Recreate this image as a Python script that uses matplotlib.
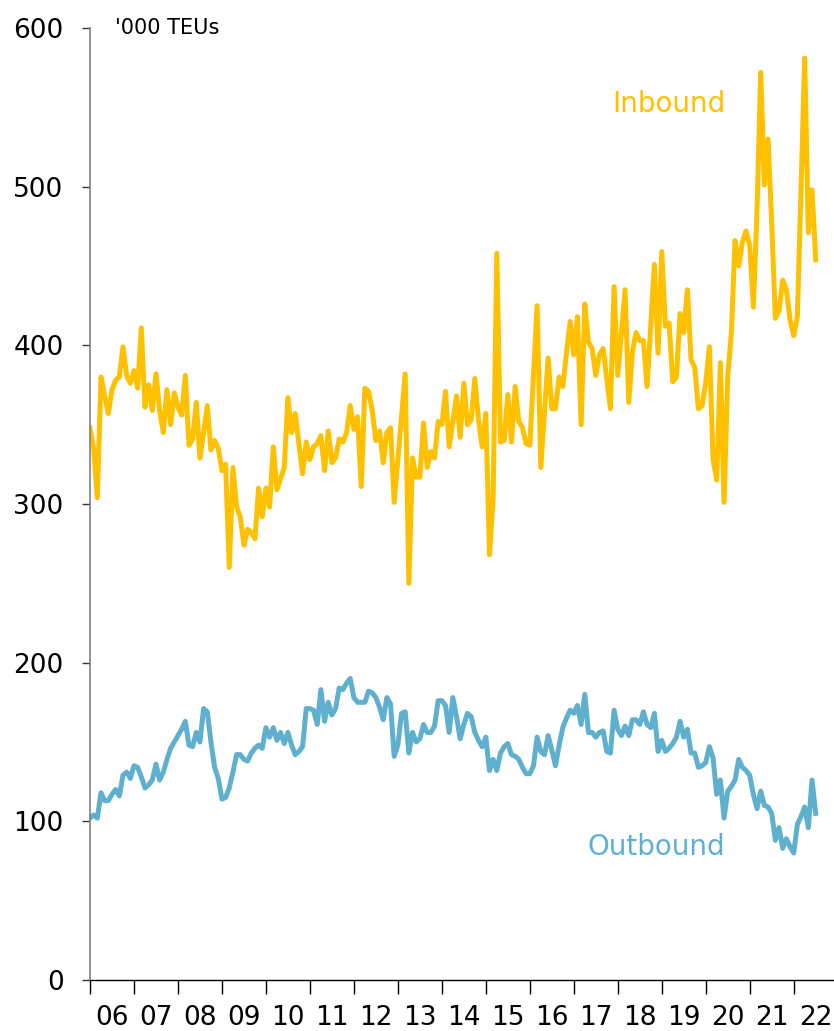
import matplotlib
matplotlib.use('Agg')
import matplotlib.pyplot as plt
import numpy as np

# monthly container throughput, '000 TEUs, Jan 2006 onwards
inbound = [348, 335, 304, 380, 368, 357, 372, 378, 380, 399, 381, 376,
           384, 373, 411, 361, 375, 359, 382, 359, 345, 372, 350, 370,
           361, 356, 381, 337, 341, 364, 329, 345, 362, 334, 340, 335,
           321, 325, 260, 323, 298, 292, 274, 284, 282, 278, 310, 292,
           310, 298, 336, 309, 316, 323, 367, 345, 357, 338, 319, 339,
           328, 336, 338, 343, 321, 346, 326, 329, 341, 339, 345, 362,
           347, 355, 311, 373, 371, 359, 340, 346, 326, 345, 348, 301,
           328, 355, 382, 250, 329, 317, 317, 351, 323, 333, 329, 352,
           350, 371, 336, 352, 368, 342, 376, 350, 353, 379, 353, 336,
           357, 268, 304, 458, 339, 340, 369, 339, 374, 352, 348, 338,
           337, 381, 425, 323, 357, 392, 360, 360, 380, 374, 395, 415,
           394, 418, 350, 426, 402, 398, 381, 394, 398, 379, 360, 437,
           381, 408, 435, 364, 396, 408, 403, 403, 374, 412, 451, 395,
           459, 412, 414, 377, 380, 420, 408, 435, 391, 386, 360, 362,
           376, 399, 328, 315, 389, 301, 380, 408, 466, 450, 465, 472,
           463, 424, 485, 572, 501, 530, 477, 417, 422, 441, 435, 416,
           406, 418, 498, 581, 471, 498, 454]

outbound = [102, 104, 102, 118, 113, 113, 117, 120, 116, 129, 131, 127,
            135, 134, 128, 121, 123, 126, 136, 126, 131, 139, 146, 150,
            154, 158, 163, 148, 147, 156, 150, 171, 169, 150, 134, 127,
            114, 115, 121, 131, 142, 142, 139, 138, 143, 146, 148, 146,
            159, 153, 159, 151, 156, 149, 156, 148, 142, 144, 147, 171,
            171, 170, 161, 183, 163, 175, 167, 171, 184, 183, 187, 190,
            178, 175, 175, 175, 182, 181, 178, 172, 164, 178, 174, 141,
            148, 168, 169, 143, 156, 150, 152, 161, 156, 156, 160, 176,
            176, 173, 156, 178, 166, 152, 161, 168, 166, 156, 151, 147,
            153, 132, 139, 132, 143, 147, 149, 142, 141, 139, 134, 130,
            130, 135, 153, 144, 142, 154, 145, 135, 148, 159, 165, 170,
            168, 173, 161, 180, 156, 156, 153, 156, 157, 144, 143, 170,
            158, 154, 160, 154, 164, 164, 161, 169, 161, 159, 168, 144,
            151, 144, 146, 149, 153, 163, 153, 158, 143, 143, 134, 135,
            137, 147, 140, 117, 126, 102, 119, 122, 126, 139, 134, 132,
            129, 117, 108, 119, 110, 109, 105, 88, 96, 83, 89, 84,
            80, 98, 103, 109, 96, 126, 105]

year_labels = ['06', '07', '08', '09', '10', '11', '12', '13', '14',
               '15', '16', '17', '18', '19', '20', '21', '22']

gold = '#FFC000'
blue = '#5FB0CF'

fig = plt.figure(figsize=(8.34, 10.31), dpi=100)
ax = fig.add_axes([0.1079, 0.0495, 0.8921, 0.9234])

months = np.arange(len(inbound))
ax.plot(months, inbound, color=gold, lw=3.6, solid_joinstyle='round')
ax.plot(np.arange(len(outbound)), outbound, color=blue, lw=3.6, solid_joinstyle='round')

ax.set_xlim(0, 203)
ax.set_ylim(0, 600)

ax.spines['top'].set_visible(False)
ax.spines['right'].set_visible(False)
ax.spines['left'].set_color('#808080')
ax.spines['left'].set_linewidth(1.2)
ax.spines['bottom'].set_color('#000000')
ax.spines['bottom'].set_linewidth(1.0)

ax.set_yticks(range(0, 601, 100))
ax.tick_params(axis='y', direction='out', length=6, width=1, color='#333333',
               labelsize=19, pad=13)

n_years = len(year_labels)
ax.set_xticks([12 * i for i in range(n_years)])
ax.set_xticklabels([])
ax.set_xticks([12 * i + 6 for i in range(n_years)], minor=True)
ax.set_xticklabels(year_labels, minor=True)
ax.tick_params(axis='x', which='major', direction='out', length=10, width=1)
ax.tick_params(axis='x', which='minor', length=0, labelsize=19, pad=18)

ax.text(6.8, 600, "'000 TEUs", fontsize=15, va='center', ha='left')
ax.text(158, 552, 'Inbound', fontsize=20, color=gold, va='center', ha='center')
ax.text(154.5, 84, 'Outbound', fontsize=20, color=blue, va='center', ha='center')

fig.savefig('out.png', dpi=100)
